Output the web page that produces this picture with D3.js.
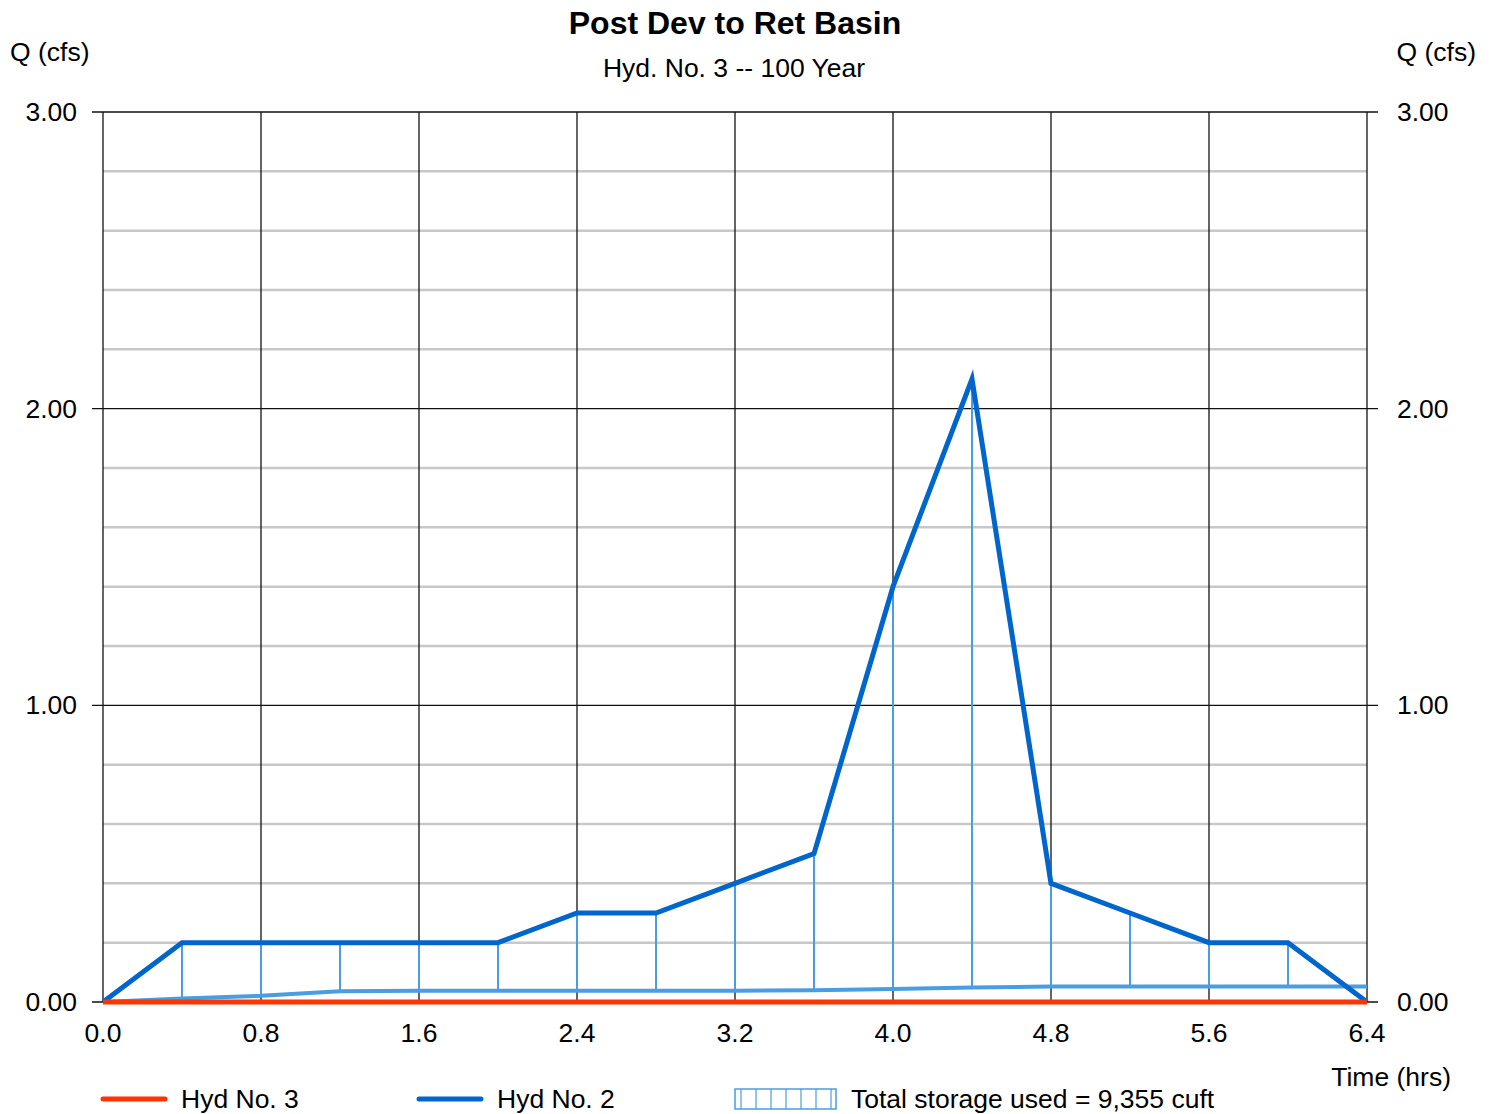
<html>
<head>
<title>Post Dev to Ret Basin</title>
<style>
  body { margin: 0; background: #fff; }
  text { font-family: "Liberation Sans", Arial, sans-serif; fill: #000; }
</style>
</head>
<body>
<div id="chart"></div>
<script src="https://cdn.jsdelivr.net/npm/d3@7"></script>
<script>
(function(){
  "use strict";

  // data (hours, cfs)
  var times   = [0, 0.4, 0.8, 1.2, 1.6, 2.0, 2.4, 2.8, 3.2, 3.6, 4.0, 4.4, 4.8, 5.2, 5.6, 6.0, 6.4];
  var hyd2    = [0, 0.2, 0.2, 0.2, 0.2, 0.2, 0.3, 0.3, 0.4, 0.5, 1.4, 2.1, 0.4, 0.3, 0.2, 0.2, 0];
  var hyd3    = [0, 0, 0, 0, 0, 0, 0, 0, 0, 0, 0, 0, 0, 0, 0, 0, 0];
  var storage = [0, 0.012, 0.021, 0.036, 0.038, 0.038, 0.038, 0.038, 0.038, 0.040, 0.044, 0.049, 0.052, 0.052, 0.052, 0.052, 0.052];
  var xTicks  = [0, 0.8, 1.6, 2.4, 3.2, 4.0, 4.8, 5.6, 6.4];
  var yMajor  = [0, 1, 2, 3];
  var yMinor  = d3.range(0.2, 3, 0.2);

  var w = 1494, h = 1114;
  var left = 103, right = 1367, top = 112, bottom = 1002;
  var fs = 26.5;

  var blue = "#0066cc", lightBlue = "#4a9de0", red = "#ff3300";

  var x = d3.scaleLinear().domain([0, 6.4]).range([left, right]);
  var y = d3.scaleLinear().domain([0, 3]).range([bottom, top]);

  var svg = d3.select("#chart").append("svg")
    .attr("width", w)
    .attr("height", h);

  // minor horizontal grid
  svg.append("g").selectAll("line")
    .data(yMinor.filter(function(v){ return Math.abs(v - Math.round(v)) > 0.01; }))
    .enter().append("line")
      .attr("x1", left).attr("x2", right)
      .attr("y1", function(d){ return y(d); })
      .attr("y2", function(d){ return y(d); })
      .attr("stroke", "#c8c8c8")
      .attr("stroke-width", 2.5);

  // vertical grid
  svg.append("g").selectAll("line")
    .data(xTicks)
    .enter().append("line")
      .attr("x1", function(d){ return x(d); })
      .attr("x2", function(d){ return x(d); })
      .attr("y1", top).attr("y2", bottom)
      .attr("stroke", "#111")
      .attr("stroke-width", 1.3);

  // major horizontal grid with ticks out both sides
  svg.append("g").selectAll("line")
    .data(yMajor)
    .enter().append("line")
      .attr("x1", left - 11).attr("x2", right + 11)
      .attr("y1", function(d){ return y(d); })
      .attr("y2", function(d){ return y(d); })
      .attr("stroke", "#111")
      .attr("stroke-width", 1.3);

  // y labels on both sides
  svg.append("g").selectAll("text")
    .data(yMajor)
    .enter().append("text")
      .attr("x", 77)
      .attr("y", function(d){ return y(d) + 9; })
      .attr("text-anchor", "end")
      .attr("font-size", fs)
      .text(function(d){ return d3.format(".2f")(d); });

  svg.append("g").selectAll("text")
    .data(yMajor)
    .enter().append("text")
      .attr("x", 1397)
      .attr("y", function(d){ return y(d) + 9; })
      .attr("text-anchor", "start")
      .attr("font-size", fs)
      .text(function(d){ return d3.format(".2f")(d); });

  // x labels
  svg.append("g").selectAll("text")
    .data(xTicks)
    .enter().append("text")
      .attr("x", function(d){ return x(d); })
      .attr("y", bottom + 40)
      .attr("text-anchor", "middle")
      .attr("font-size", fs)
      .text(function(d){ return d3.format(".1f")(d); });

  // storage hatching: verticals between storage line and inflow
  var pts = times.map(function(t, i){ return { t: t, lo: storage[i], hi: hyd2[i] }; });
  svg.append("g").selectAll("line")
    .data(pts.filter(function(p){ return p.hi > p.lo; }))
    .enter().append("line")
      .attr("x1", function(d){ return x(d.t); })
      .attr("x2", function(d){ return x(d.t); })
      .attr("y1", function(d){ return y(d.lo); })
      .attr("y2", function(d){ return y(d.hi); })
      .attr("stroke", lightBlue)
      .attr("stroke-width", 2);

  var line = d3.line()
    .x(function(d){ return x(d[0]); })
    .y(function(d){ return y(d[1]); });

  svg.append("path")
    .attr("d", line(d3.zip(times, storage)))
    .attr("fill", "none")
    .attr("stroke", lightBlue)
    .attr("stroke-width", 4);

  svg.append("path")
    .attr("d", line(d3.zip(times, hyd2)))
    .attr("fill", "none")
    .attr("stroke", blue)
    .attr("stroke-width", 5)
    .attr("stroke-linejoin", "miter");

  svg.append("path")
    .attr("d", line(d3.zip(times, hyd3)))
    .attr("fill", "none")
    .attr("stroke", red)
    .attr("stroke-width", 5);

  // titles
  svg.append("text")
    .attr("x", 735).attr("y", 34)
    .attr("text-anchor", "middle")
    .attr("font-size", 32)
    .attr("font-weight", "bold")
    .text("Post Dev to Ret Basin");

  svg.append("text")
    .attr("x", 734).attr("y", 77)
    .attr("text-anchor", "middle")
    .attr("font-size", fs)
    .text("Hyd. No. 3 -- 100 Year");

  svg.append("text")
    .attr("x", 10).attr("y", 61)
    .attr("font-size", fs)
    .text("Q (cfs)");

  svg.append("text")
    .attr("x", 1476).attr("y", 61)
    .attr("text-anchor", "end")
    .attr("font-size", fs)
    .text("Q (cfs)");

  svg.append("text")
    .attr("x", 1451).attr("y", 1086)
    .attr("text-anchor", "end")
    .attr("font-size", fs)
    .text("Time (hrs)");

  // legend
  var ly = 1099;
  var lg = svg.append("g");
  lg.append("line")
    .attr("x1", 103).attr("x2", 165).attr("y1", ly).attr("y2", ly)
    .attr("stroke", red).attr("stroke-width", 5).attr("stroke-linecap", "round");
  lg.append("text").attr("x", 181).attr("y", ly + 9).attr("font-size", fs).text("Hyd No. 3");

  lg.append("line")
    .attr("x1", 419).attr("x2", 481).attr("y1", ly).attr("y2", ly)
    .attr("stroke", blue).attr("stroke-width", 5).attr("stroke-linecap", "round");
  lg.append("text").attr("x", 497).attr("y", ly + 9).attr("font-size", fs).text("Hyd No. 2");

  lg.append("rect")
    .attr("x", 735).attr("y", 1089).attr("width", 101).attr("height", 20)
    .attr("fill", "none").attr("stroke", lightBlue).attr("stroke-width", 1.5);
  lg.selectAll("line.h")
    .data(d3.range(1, 7))
    .enter().append("line")
      .attr("class", "h")
      .attr("x1", function(d){ return 741 + d * 15; })
      .attr("x2", function(d){ return 741 + d * 15; })
      .attr("y1", 1089).attr("y2", 1109)
      .attr("stroke", lightBlue).attr("stroke-width", 1.2);
  lg.append("line")
    .attr("x1", 741).attr("x2", 741).attr("y1", 1089).attr("y2", 1109)
    .attr("stroke", lightBlue).attr("stroke-width", 1.2);
  lg.append("text").attr("x", 851).attr("y", ly + 9).attr("font-size", fs)
    .text("Total storage used = 9,355 cuft");
})();
</script>
</body>
</html>
